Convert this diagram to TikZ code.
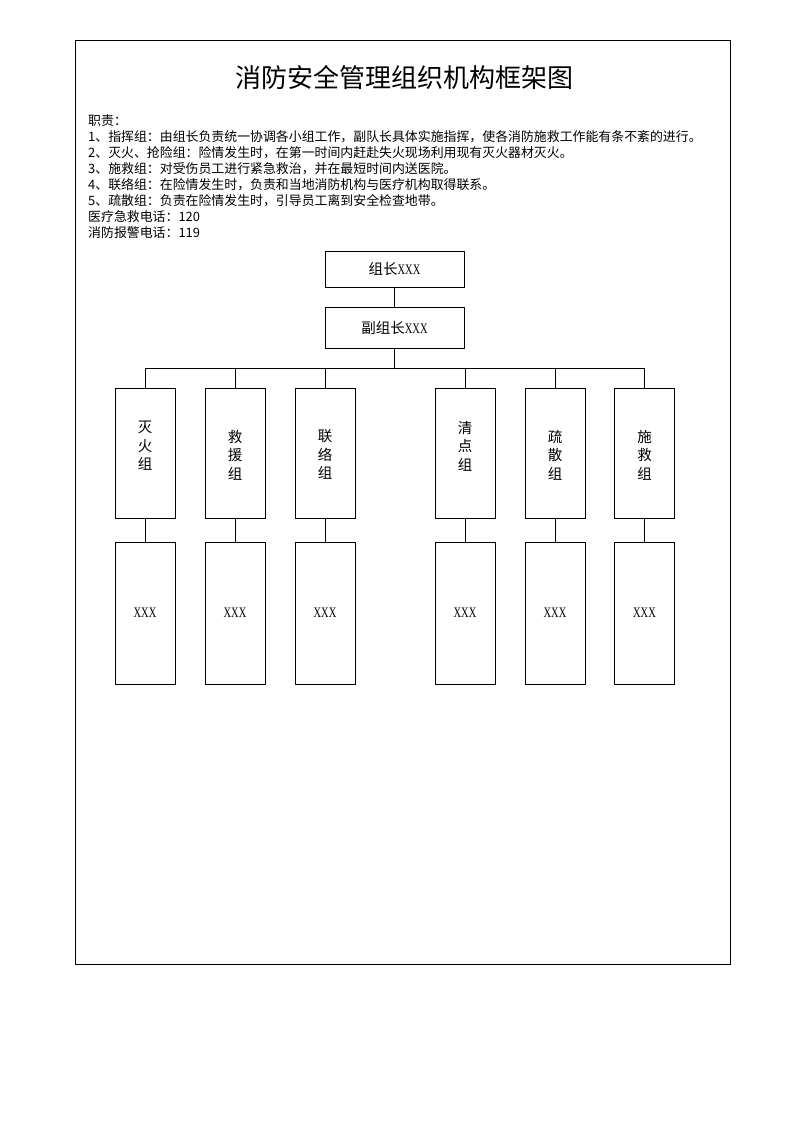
\documentclass[tikz,border=0pt]{standalone}
\usepackage{fontspec}
\setmainfont{Liberation Serif}
\newfontfamily\cjk{Noto Sans CJK SC}
\newfontfamily\xfont[FakeStretch=0.72]{Liberation Serif}
\newcommand{\vtext}[2]{\raisebox{#1}[0pt][0pt]{\parbox{20pt}{\centering #2}}}
\begin{document}
\begin{tikzpicture}[x=1pt,y=-1pt,
  frame/.style={draw=black,line width=0.8pt},
  headbox/.style={draw=black,line width=1pt,minimum width=139pt,inner sep=0pt,font=\cjk\fontsize{14.5}{17}\selectfont},
  colbox/.style={draw=black,line width=1pt,minimum width=60pt,minimum height=130pt,inner sep=0pt,align=center,font=\cjk\fontsize{14.5}{18.5}\selectfont},
  namebox/.style={draw=black,line width=1pt,minimum width=60pt,minimum height=142pt,inner sep=0pt,font=\xfont\fontsize{14.5}{17}\selectfont},
  link/.style={draw=black,line width=0.8pt},
  body/.style={anchor=west,inner sep=0pt,font=\cjk\fontsize{12.9}{16}\selectfont}]
\useasboundingbox (0,0) rectangle (793,1122);
\draw[frame] (75.5,40) rectangle (730,964.5);
\node[inner sep=0pt,font=\cjk\fontsize{26}{30}\selectfont] (title) at (404.5,77) {消防安全管理组织机构框架图};
\node[body] (t0) at (88,121) {职责：};
\node[body] (t1) at (88,137) {1、指挥组：由组长负责统一协调各小组工作，副队长具体实施指挥，使各消防施救工作能有条不紊的进行。};
\node[body] (t2) at (88,153) {2、灭火、抢险组：险情发生时，在第一时间内赶赴失火现场利用现有灭火器材灭火。};
\node[body] (t3) at (88,169) {3、施救组：对受伤员工进行紧急救治，并在最短时间内送医院。};
\node[body] (t4) at (88,185) {4、联络组：在险情发生时，负责和当地消防机构与医疗机构取得联系。};
\node[body] (t5) at (88,201) {5、疏散组：负责在险情发生时，引导员工离到安全检查地带。};
\node[body] (t6) at (88,217) {医疗急救电话：120};
\node[body] (t7) at (88,233) {消防报警电话：119};
% head boxes
\node[headbox,minimum height=36pt] (zz) at (394.5,269) {组长{\xfont XXX}};
\node[headbox,minimum height=41pt] (fz) at (394.5,327.5) {副组长{\xfont XXX}};
% group boxes
\node[colbox] (c1) at (145,453) {\vtext{3.5pt}{灭\\火\\组}};
\node[colbox] (c2) at (235,453) {\vtext{-5.5pt}{救\\援\\组}};
\node[colbox] (c3) at (325,453) {\vtext{-5.5pt}{联\\络\\组}};
\node[colbox] (c4) at (465,453) {\vtext{3.5pt}{清\\点\\组}};
\node[colbox] (c5) at (555,453) {\vtext{-5.5pt}{疏\\散\\组}};
\node[colbox] (c6) at (644.5,453) {\vtext{-5.5pt}{施\\救\\组}};
% name boxes
\node[namebox] (n1) at (145,613) {XXX};
\node[namebox] (n2) at (235,613) {XXX};
\node[namebox] (n3) at (325,613) {XXX};
\node[namebox] (n4) at (465,613) {XXX};
\node[namebox] (n5) at (555,613) {XXX};
\node[namebox] (n6) at (644.5,613) {XXX};
% connectors
\coordinate (bus) at (394.5,368);
\draw[link] (zz.south) -- (fz.north);
\draw[link] (fz.south) -- (bus);
\draw[link] (c1.north |- bus) -- (c6.north |- bus);
\foreach \i in {1,...,6}{
  \draw[link] (c\i.north) -- (c\i.north |- bus);
  \draw[link] (c\i.south) -- (n\i.north);
}
\end{tikzpicture}
\end{document}
